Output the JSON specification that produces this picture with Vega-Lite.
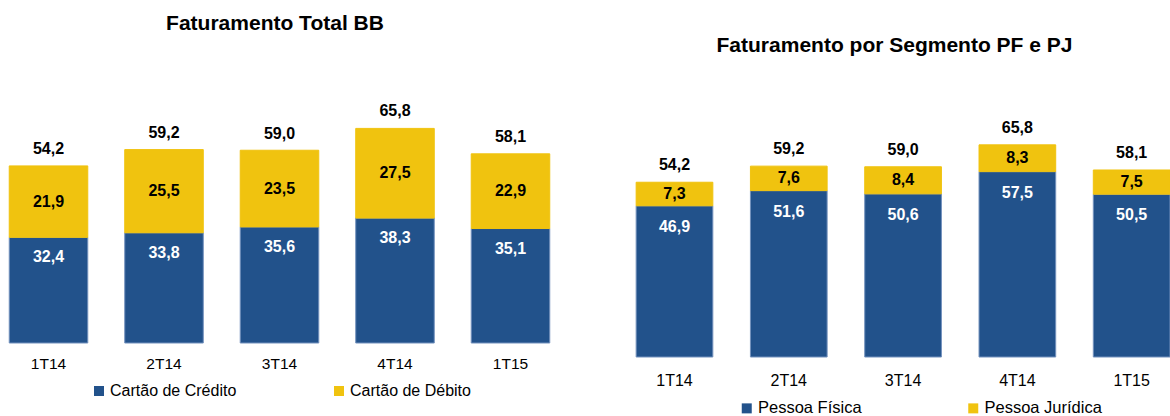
{
  "$schema": "https://vega.github.io/schema/vega-lite/v6.json",
  "padding": {"top": 12, "left": 0, "right": 0, "bottom": 0},
  "background": "white",
  "config": {
    "view": {"stroke": null},
    "font": "Liberation Sans",
    "concat": {"spacing": 20},
    "locale": {"number": {"decimal": ",", "thousands": ".", "grouping": [3], "currency": ["R$", ""]}}
  },
  "datasets": {
    "cartoes": [
      {"trimestre": "1T14", "serie": "Cartão de Crédito", "valor": 32.4},
      {"trimestre": "1T14", "serie": "Cartão de Débito", "valor": 21.9},
      {"trimestre": "2T14", "serie": "Cartão de Crédito", "valor": 33.8},
      {"trimestre": "2T14", "serie": "Cartão de Débito", "valor": 25.5},
      {"trimestre": "3T14", "serie": "Cartão de Crédito", "valor": 35.6},
      {"trimestre": "3T14", "serie": "Cartão de Débito", "valor": 23.5},
      {"trimestre": "4T14", "serie": "Cartão de Crédito", "valor": 38.3},
      {"trimestre": "4T14", "serie": "Cartão de Débito", "valor": 27.5},
      {"trimestre": "1T15", "serie": "Cartão de Crédito", "valor": 35.1},
      {"trimestre": "1T15", "serie": "Cartão de Débito", "valor": 22.9}
    ],
    "totalBB": [
      {"trimestre": "1T14", "total": 54.2},
      {"trimestre": "2T14", "total": 59.2},
      {"trimestre": "3T14", "total": 59.0},
      {"trimestre": "4T14", "total": 65.8},
      {"trimestre": "1T15", "total": 58.1}
    ],
    "segmentos": [
      {"trimestre": "1T14", "serie": "Pessoa Física", "valor": 46.9},
      {"trimestre": "1T14", "serie": "Pessoa Jurídica", "valor": 7.3},
      {"trimestre": "2T14", "serie": "Pessoa Física", "valor": 51.6},
      {"trimestre": "2T14", "serie": "Pessoa Jurídica", "valor": 7.6},
      {"trimestre": "3T14", "serie": "Pessoa Física", "valor": 50.6},
      {"trimestre": "3T14", "serie": "Pessoa Jurídica", "valor": 8.4},
      {"trimestre": "4T14", "serie": "Pessoa Física", "valor": 57.5},
      {"trimestre": "4T14", "serie": "Pessoa Jurídica", "valor": 8.3},
      {"trimestre": "1T15", "serie": "Pessoa Física", "valor": 50.5},
      {"trimestre": "1T15", "serie": "Pessoa Jurídica", "valor": 7.5}
    ],
    "totalSeg": [
      {"trimestre": "1T14", "total": 54.2},
      {"trimestre": "2T14", "total": 59.2},
      {"trimestre": "3T14", "total": 59.0},
      {"trimestre": "4T14", "total": 65.8},
      {"trimestre": "1T15", "total": 58.1}
    ]
  },
  "hconcat": [
    {
      "width": 559,
      "height": 242,
      "title": {"text": "Faturamento Total BB", "fontSize": 21, "fontWeight": "bold", "color": "black", "anchor": "middle", "dx": -4.5, "offset": 50.4, "baseline": "alphabetic", "frame": "group"},
      "encoding": {
        "x": {
          "field": "trimestre", "type": "nominal",
          "scale": {"domain": ["1T14", "2T14", "3T14", "4T14", "1T15"], "paddingInner": 0.32, "paddingOuter": 0.08},
          "axis": {"title": null, "labelAngle": 0, "ticks": false, "tickSize": 0, "domain": false, "grid": false, "labelFontSize": 15.5, "labelColor": "black", "labelPadding": 13.5}
        }
      },
      "layer": [
        {
          "data": {"name": "cartoes"},
          "mark": {"type": "bar", "strokeWidth": 1},
          "encoding": {
            "y": {"field": "valor", "type": "quantitative", "stack": "zero", "scale": {"domain": [0, 74.2], "nice": false, "zero": true}, "axis": null},
            "order": {"field": "serie", "type": "nominal", "sort": "ascending"},
            "stroke": {"field": "serie", "type": "nominal", "scale": {"domain": ["Cartão de Crédito", "Cartão de Débito"], "range": ["#7391bd", "#f0c30f"]}, "legend": null},
            "color": {
              "field": "serie", "type": "nominal",
              "scale": {"domain": ["Cartão de Crédito", "Cartão de Débito"], "range": ["#22528b", "#f0c30f"]},
              "legend": {"title": null, "orient": "none", "legendX": 91, "legendY": 282, "direction": "horizontal", "symbolType": "square", "symbolSize": 100, "symbolStrokeWidth": 0, "symbolOpacity": 1, "labelFontSize": 16, "labelColor": "black", "labelOffset": 3, "columnPadding": 94, "padding": 0, "labelLimit": 400}
            }
          }
        },
        {
          "data": {"name": "cartoes"},
          "transform": [{"filter": {"field": "serie", "equal": "Cartão de Crédito"}}],
          "mark": {"type": "text", "dy": 20, "color": "white", "fontSize": 16, "fontWeight": "bold", "baseline": "middle"},
          "encoding": {
            "y": {"field": "valor", "type": "quantitative", "stack": null},
            "text": {"field": "valor", "type": "quantitative", "format": ".1f"}
          }
        },
        {
          "data": {"name": "cartoes"},
          "transform": [
            {"stack": "valor", "groupby": ["trimestre"], "sort": [{"field": "serie", "order": "ascending"}], "as": ["v0", "v1"]},
            {"filter": {"field": "serie", "equal": "Cartão de Débito"}},
            {"fold": ["v0", "v1"], "as": ["borda", "pos"]},
            {"aggregate": [{"op": "mean", "field": "pos", "as": "meio"}, {"op": "max", "field": "valor", "as": "valor"}], "groupby": ["trimestre"]}
          ],
          "mark": {"type": "text", "color": "black", "fontSize": 16, "fontWeight": "bold", "baseline": "middle"},
          "encoding": {
            "y": {"field": "meio", "type": "quantitative", "stack": null},
            "text": {"field": "valor", "type": "quantitative", "format": ".1f"}
          }
        },
        {
          "data": {"name": "totalBB"},
          "mark": {"type": "text", "dy": -17, "color": "black", "fontSize": 16, "fontWeight": "bold", "baseline": "middle"},
          "encoding": {
            "y": {"field": "total", "type": "quantitative", "stack": null},
            "text": {"field": "total", "type": "quantitative", "format": ".1f"}
          }
        }
      ]
    },
    {
      "width": 591,
      "height": 256,
      "title": {"text": "Faturamento por Segmento PF e PJ", "fontSize": 21, "fontWeight": "bold", "color": "black", "anchor": "middle", "dx": 20, "offset": 28.4, "baseline": "alphabetic", "frame": "group"},
      "encoding": {
        "x": {
          "field": "trimestre", "type": "nominal",
          "scale": {"domain": ["1T14", "2T14", "3T14", "4T14", "1T15"], "paddingInner": 0.329, "paddingOuter": 0.25, "align": 1},
          "axis": {"title": null, "labelAngle": 0, "ticks": false, "tickSize": 0, "domain": false, "grid": false, "labelFontSize": 16, "labelColor": "black", "labelPadding": 15}
        }
      },
      "layer": [
        {
          "data": {"name": "segmentos"},
          "mark": {"type": "bar", "strokeWidth": 1},
          "encoding": {
            "y": {"field": "valor", "type": "quantitative", "stack": "zero", "scale": {"domain": [0, 79.4], "nice": false, "zero": true}, "axis": null},
            "order": {"field": "serie", "type": "nominal", "sort": "ascending"},
            "stroke": {"field": "serie", "type": "nominal", "scale": {"domain": ["Pessoa Física", "Pessoa Jurídica"], "range": ["#7391bd", "#f0c30f"]}, "legend": null},
            "color": {
              "field": "serie", "type": "nominal",
              "scale": {"domain": ["Pessoa Física", "Pessoa Jurídica"], "range": ["#22528b", "#f0c30f"]},
              "legend": {"title": null, "orient": "none", "legendX": 159.5, "legendY": 299, "direction": "horizontal", "symbolType": "square", "symbolSize": 100, "symbolStrokeWidth": 0, "symbolOpacity": 1, "labelFontSize": 16.5, "labelColor": "black", "labelOffset": 3, "columnPadding": 102.5, "padding": 0, "labelLimit": 400}
            }
          }
        },
        {
          "data": {"name": "segmentos"},
          "transform": [{"filter": {"field": "serie", "equal": "Pessoa Física"}}],
          "mark": {"type": "text", "dy": 21, "color": "white", "fontSize": 16, "fontWeight": "bold", "baseline": "middle"},
          "encoding": {
            "y": {"field": "valor", "type": "quantitative", "stack": null},
            "text": {"field": "valor", "type": "quantitative", "format": ".1f"}
          }
        },
        {
          "data": {"name": "segmentos"},
          "transform": [
            {"stack": "valor", "groupby": ["trimestre"], "sort": [{"field": "serie", "order": "ascending"}], "as": ["v0", "v1"]},
            {"filter": {"field": "serie", "equal": "Pessoa Jurídica"}},
            {"fold": ["v0", "v1"], "as": ["borda", "pos"]},
            {"aggregate": [{"op": "mean", "field": "pos", "as": "meio"}, {"op": "max", "field": "valor", "as": "valor"}], "groupby": ["trimestre"]}
          ],
          "mark": {"type": "text", "color": "black", "fontSize": 16, "fontWeight": "bold", "baseline": "middle"},
          "encoding": {
            "y": {"field": "meio", "type": "quantitative", "stack": null},
            "text": {"field": "valor", "type": "quantitative", "format": ".1f"}
          }
        },
        {
          "data": {"name": "totalSeg"},
          "mark": {"type": "text", "dy": -17, "color": "black", "fontSize": 16, "fontWeight": "bold", "baseline": "middle"},
          "encoding": {
            "y": {"field": "total", "type": "quantitative", "stack": null},
            "text": {"field": "total", "type": "quantitative", "format": ".1f"}
          }
        }
      ]
    }
  ],
  "resolve": {
    "scale": {"color": "independent", "y": "independent", "x": "independent", "stroke": "independent"},
    "legend": {"color": "independent", "stroke": "independent"}
  }
}
